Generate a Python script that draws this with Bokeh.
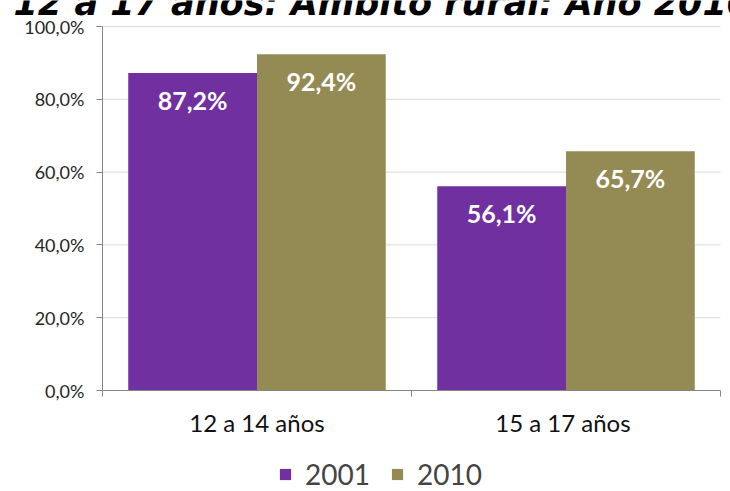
from bokeh.plotting import figure
from bokeh.models import (ColumnDataSource, FixedTicker, Legend, LegendItem, Label,
                          Range1d, LinearAxis)
from bokeh.core.properties import value
from bokeh.embed import file_html
from bokeh.resources import INLINE

categories = ["12 a 14 años", "15 a 17  años"]
series_names = ["2001", "2010"]
values_2001 = [87.2, 56.1]
values_2010 = [92.4, 65.7]
labels_2001 = ["87,2%", "56,1%"]
labels_2010 = ["92,4%", "65,7%"]
y_ticks = [0, 20, 40, 60, 80, 100]
y_tick_labels = ["0,0%", "20,0%", "40,0%", "60,0%", "80,0%", "100,0%"]
title_text = "12 a 17 años: Ámbito rural: Año 2010"

colors = ["#7030A0", "#948A54"]
FONT = "Lato"

W, H = 730, 491
# plot area in pixels (inside the canvas)
left, right, top, bottom = 102, 720, 26, 390
n = len(categories)
ymax = y_ticks[-1]
ppx = (right - left) / n
ppy = (bottom - top) / ymax

centers = [i + 0.5 for i in range(n)]
bw = 1 / 2.4

p = figure(width=W, height=H, output_backend="svg", toolbar_location=None,
           x_range=Range1d(-left / ppx, n + (W - right) / ppx),
           y_range=Range1d(-(H - bottom) / ppy, ymax + top / ppy),
           x_axis_location=None, y_axis_location=None,
           min_border_left=0, min_border_right=0, min_border_top=0, min_border_bottom=0)
p.outline_line_color = None
p.background_fill_color = "white"
p.border_fill_color = "white"
p.xgrid.visible = False
p.ygrid.visible = False

# gridlines
p.segment(x0=[0] * len(y_ticks[1:]), x1=[n] * len(y_ticks[1:]), y0=y_ticks[1:], y1=y_ticks[1:],
          line_color="#D9D9D9", line_width=1)

src1 = ColumnDataSource(dict(x=[c - bw / 2 for c in centers], top=values_2001, lab=labels_2001))
src2 = ColumnDataSource(dict(x=[c + bw / 2 for c in centers], top=values_2010, lab=labels_2010))
r1 = p.vbar(x="x", top="top", width=bw, source=src1, fill_color=colors[0], line_color=None)
r2 = p.vbar(x="x", top="top", width=bw, source=src2, fill_color=colors[1], line_color=None)

for s in (src1, src2):
    p.text(x="x", y="top", text="lab", source=s, text_color="white",
           text_font=value(FONT), text_font_style="bold", text_font_size="25px",
           text_align="center", text_baseline="top", y_offset=12)

# y axis
yaxis = LinearAxis(fixed_location=0, bounds=(0, ymax))
yaxis.ticker = FixedTicker(ticks=y_ticks)
yaxis.major_label_overrides = {t: l for t, l in zip(y_ticks, y_tick_labels)}
yaxis.axis_line_color = "#868686"
yaxis.major_tick_line_color = "#868686"
yaxis.major_tick_out = 6
yaxis.major_tick_in = 0
yaxis.minor_tick_line_color = None
yaxis.major_label_text_font = FONT
yaxis.major_label_text_font_size = "18px"
yaxis.major_label_text_color = "#262626"
yaxis.major_label_standoff = 12
p.add_layout(yaxis, "left")

# x axis
xaxis = LinearAxis(fixed_location=0, bounds=(0, n))
xaxis.ticker = FixedTicker(ticks=centers, minor_ticks=list(range(n + 1)))
xaxis.major_label_overrides = {c: l for c, l in zip(centers, categories)}
xaxis.axis_line_color = "#868686"
xaxis.major_tick_line_color = None
xaxis.minor_tick_line_color = "#868686"
xaxis.minor_tick_out = 6
xaxis.minor_tick_in = 0
xaxis.major_label_text_font = FONT
xaxis.major_label_text_font_size = "24px"
xaxis.major_label_text_color = "#111111"
xaxis.major_label_standoff = 11
p.add_layout(xaxis, "below")

legend = Legend(items=[LegendItem(label=series_names[0], renderers=[r1]),
                       LegendItem(label=series_names[1], renderers=[r2])],
                orientation="horizontal", location=(278, 0),
                label_text_font=FONT, label_text_font_size="28px",
                glyph_width=14, glyph_height=14, spacing=20, label_standoff=13,
                padding=0, margin=0,
                border_line_color=None, background_fill_alpha=0)
p.add_layout(legend)

title = Label(x=13, y=H - 2, x_units="screen", y_units="screen", text=title_text,
              text_font="DejaVu Sans", text_font_style="bold italic", text_font_size="35px",
              text_baseline="alphabetic", text_color="black")
p.add_layout(title)

open("out.html", "w").write(file_html(p, INLINE))
